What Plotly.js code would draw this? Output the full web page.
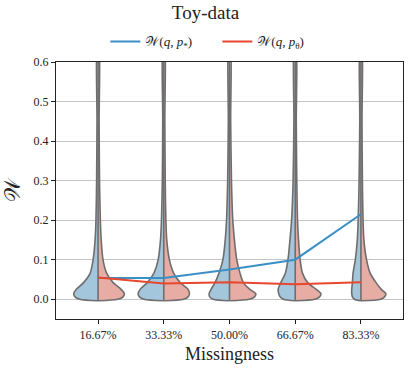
<!DOCTYPE html>
<html>
<head>
<meta charset="utf-8">
<script src="https://cdn.plot.ly/plotly-3.0.1.min.js"></script>
<style>
  html, body { margin: 0; padding: 0; background: #ffffff; }
  #chart { width: 411px; height: 371px; }
</style>
</head>
<body>
<div id="chart"></div>
<script>
// Missingness levels on the x axis
const categories = ["16.67%", "33.33%", "50.00%", "66.67%", "83.33%"];

// Mean distances drawn as lines
const wStar = [0.054, 0.054, 0.075, 0.100, 0.215];
const wTheta = [0.055, 0.040, 0.043, 0.038, 0.043];

// Violin profiles: half widths (in category units) at shared W levels
const levels = [-0.004, 0.0, 0.006, 0.014, 0.025, 0.042, 0.066, 0.1, 0.15, 0.2, 0.3, 0.45, 0.65];

const starWidths = [
  [0, 0.28, 0.35, 0.37, 0.33, 0.22, 0.12, 0.075, 0.045, 0.032, 0.022, 0.016, 0.012],
  [0, 0.30, 0.37, 0.39, 0.36, 0.25, 0.15, 0.085, 0.05, 0.035, 0.022, 0.016, 0.012],
  [0, 0.25, 0.30, 0.31, 0.28, 0.22, 0.16, 0.10, 0.065, 0.045, 0.028, 0.018, 0.012],
  [0, 0.18, 0.23, 0.25, 0.26, 0.22, 0.15, 0.11, 0.08, 0.055, 0.032, 0.02, 0.014],
  [0, 0.10, 0.13, 0.14, 0.14, 0.13, 0.12, 0.085, 0.055, 0.042, 0.028, 0.018, 0.012],
];

const thetaWidths = [
  [0, 0.30, 0.38, 0.40, 0.35, 0.23, 0.13, 0.075, 0.048, 0.035, 0.022, 0.016, 0.012],
  [0, 0.30, 0.37, 0.39, 0.37, 0.25, 0.15, 0.085, 0.045, 0.032, 0.022, 0.016, 0.012],
  [0, 0.30, 0.38, 0.40, 0.31, 0.21, 0.16, 0.11, 0.075, 0.05, 0.03, 0.018, 0.012],
  [0, 0.30, 0.37, 0.39, 0.32, 0.19, 0.11, 0.075, 0.05, 0.035, 0.024, 0.016, 0.012],
  [0, 0.30, 0.36, 0.38, 0.31, 0.23, 0.14, 0.085, 0.045, 0.032, 0.022, 0.016, 0.012],
];

const blueFill = "#a3c6dd";
const redFill = "#e7aca3";
const blueLine = "#3a8fc5";
const redLine = "#e8472d";
const edgeGray = "#6e6e6e";

const xIdx = categories.map((c, i) => i);
const traces = [];

// one half of a split violin, side = -1 (left) or +1 (right)
function halfViolin(center, widths, side, fill) {
  const xs = widths.map(w => center + side * w);
  const ys = levels.slice();
  xs.push(center);
  ys.push(levels[levels.length - 1]);
  return {
    x: xs,
    y: ys,
    type: "scatter",
    mode: "lines",
    fill: "toself",
    fillcolor: fill,
    line: { color: edgeGray, width: 1.6, shape: "spline", smoothing: 0.8 },
    hoverinfo: "skip",
    showlegend: false,
  };
}

xIdx.forEach(i => {
  traces.push(halfViolin(i, starWidths[i], -1, blueFill));
  traces.push(halfViolin(i, thetaWidths[i], 1, redFill));
  // split line in the middle
  traces.push({
    x: [i, i],
    y: [levels[0], levels[levels.length - 1]],
    type: "scatter",
    mode: "lines",
    line: { color: edgeGray, width: 1.6 },
    hoverinfo: "skip",
    showlegend: false,
  });
});

traces.push({
  x: xIdx,
  y: wStar,
  type: "scatter",
  mode: "lines",
  line: { color: blueLine, width: 2 },
  name: "𝒲(<i>q</i>, <i>p</i><sub>*</sub>)",
});

traces.push({
  x: xIdx,
  y: wTheta,
  type: "scatter",
  mode: "lines",
  line: { color: redLine, width: 2 },
  name: "𝒲(<i>q</i>, <i>p</i><sub>θ</sub>)",
});

const layout = {
  width: 411,
  height: 371,
  margin: { l: 56, r: 8, t: 62, b: 52 },
  paper_bgcolor: "#ffffff",
  plot_bgcolor: "#ffffff",
  font: { family: "Liberation Serif, serif", size: 12, color: "#222222" },
  title: {
    text: "Toy-data",
    x: 0.5,
    xanchor: "center",
    y: 0.985,
    yanchor: "top",
    font: { size: 19, color: "#222222" },
  },
  showlegend: true,
  legend: {
    orientation: "h",
    x: 0.465,
    xanchor: "center",
    y: 1.08,
    yanchor: "middle",
    bgcolor: "rgba(0,0,0,0)",
    font: { size: 13 },
    entrywidth: 67,
    entrywidthmode: "pixels",
    traceorder: "normal",
  },
  xaxis: {
    range: [-0.64, 4.64],
    tickvals: xIdx,
    ticktext: categories,
    showgrid: false,
    zeroline: false,
    showline: true,
    mirror: true,
    linecolor: "#222222",
    linewidth: 1.2,
    ticks: "outside",
    ticklen: 4,
    tickcolor: "#222222",
    tickfont: { size: 12 },
    title: { text: "Missingness", font: { size: 18 }, standoff: 6 },
  },
  yaxis: {
    range: [-0.05, 0.6],
    tickvals: [0, 0.1, 0.2, 0.3, 0.4, 0.5, 0.6],
    tickformat: ".1f",
    showgrid: true,
    gridcolor: "#c4c4c4",
    gridwidth: 1,
    zeroline: false,
    showline: true,
    mirror: true,
    linecolor: "#222222",
    linewidth: 1.2,
    ticks: "outside",
    ticklen: 4,
    tickcolor: "#222222",
    tickfont: { size: 12 },
    title: { text: "𝒲", font: { size: 22 }, standoff: 8 },
  },
};

Plotly.newPlot("chart", traces, layout, { staticPlot: true });
</script>
</body>
</html>
